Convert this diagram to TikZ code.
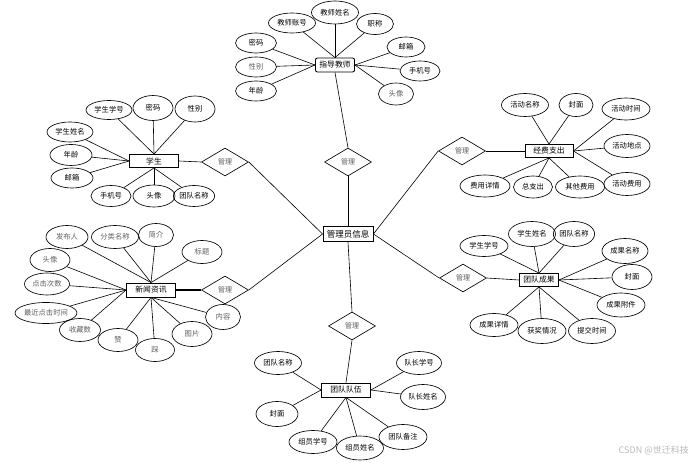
\documentclass[tikz,border=0pt]{standalone}
\usepackage{fontspec}
\newfontfamily\cjk{Noto Sans CJK SC}
\usetikzlibrary{shapes.geometric}
\begin{document}
\begin{tikzpicture}[x=1pt,y=-1pt,
  attr/.style={ellipse, draw, line width=0.65pt, inner sep=0pt, minimum width=44pt, minimum height=22pt, font=\cjk\fontsize{7.3}{8}\selectfont},
  ew/.style={minimum width=#1},
  eh/.style={minimum height=#1},
  soft/.style={text=gray!75!black},
  ent/.style={rectangle, draw, line width=0.9pt, inner sep=0pt, minimum width=49pt, minimum height=14pt, font=\cjk\fontsize{7.8}{8}\selectfont},
  rel/.style={diamond, draw, line width=0.65pt, inner sep=0pt, minimum width=47pt, minimum height=28pt, font=\cjk\fontsize{7}{8}\selectfont, text=gray!70!black},
  conn/.style={line width=0.6pt}]
\useasboundingbox (0,0) rectangle (697,465);

% central entity and relations
\node[ent, minimum width=50pt, minimum height=15pt, font=\cjk\fontsize{8.5}{9}\selectfont] (m) at (348,234) {管理员信息};
\node[rel] (d1) at (348,162) {管理};
\node[rel] (d2) at (225,162) {管理};
\node[rel] (d3) at (462,151) {管理};
\node[rel] (d4) at (463,278) {管理};
\node[rel] (d5) at (225,290) {管理};
\node[rel] (d6) at (352,326) {管理};

% teacher
\node[ent, rounded corners=2pt, minimum width=39pt] (t) at (335,65) {指导教师};
\node[attr, ew=47pt, eh=23pt] (t1) at (335,12.5) {教师姓名};
\node[attr, ew=47pt, eh=20pt] (t2) at (292,23) {教师账号};
\node[attr, ew=37pt, eh=21pt] (t3) at (375,24) {职称};
\node[attr, ew=41pt, eh=20pt] (t4) at (256,43) {密码};
\node[attr, ew=41pt, eh=20pt, soft] (t5) at (256,67) {性别};
\node[attr, ew=41pt, eh=20pt] (t6) at (256,91) {年龄};
\node[attr, ew=38pt, eh=20pt] (t7) at (406,47) {邮箱};
\node[attr, ew=40pt, eh=20pt] (t8) at (420,71) {手机号};
\node[attr, ew=35pt, eh=22pt, soft] (t9) at (396,94) {头像};
\foreach \i in {1,2,3} \draw[conn] (t\i) -- (t.north);
\foreach \i in {4,5,6} \draw[conn] (t\i) -- (t.west);
\foreach \i in {7,8,9} \draw[conn] (t\i) -- (t.east);

% student
\node[ent, minimum height=13pt] (s) at (154,161) {学生};
\node[attr, ew=46pt, eh=19pt] (s1) at (109,110) {学生学号};
\node[attr, ew=40pt, eh=25pt] (s2) at (153,108) {密码};
\node[attr, ew=40pt, eh=26pt] (s3) at (195,109) {性别};
\node[attr, ew=46pt, eh=20pt] (s4) at (70,132) {学生姓名};
\node[attr, ew=42pt, eh=21pt] (s5) at (71,155) {年龄};
\node[attr, ew=42pt, eh=20pt] (s6) at (72,178) {邮箱};
\node[attr, ew=40pt, eh=21pt] (s7) at (111,196) {手机号};
\node[attr, ew=42pt, eh=22pt] (s8) at (154,196) {头像};
\node[attr, ew=38pt, eh=21pt] (s9) at (194,196) {团队名称};
\foreach \i in {1,2,3} \draw[conn] (s\i) -- (s.north);
\foreach \i in {4,5,6} \draw[conn] (s\i) -- (s.west);
\foreach \i in {7,8,9} \draw[conn] (s\i) -- (s.south);

% finance
\node[ent, minimum width=48pt, minimum height=13pt] (f) at (549,151) {经费支出};
\node[attr, ew=47pt, eh=23pt] (f1) at (525,105) {活动名称};
\node[attr, ew=34pt, eh=23pt] (f2) at (576,105) {封面};
\node[attr, ew=48pt, eh=22pt] (f3) at (626,109) {活动时间};
\node[attr, ew=46pt, eh=23pt] (f4) at (627,146) {活动地点};
\node[attr, ew=46pt, eh=23pt] (f5) at (627,184) {活动费用};
\node[attr, ew=49pt, eh=22pt] (f6) at (580,187) {其他费用};
\node[attr, ew=39pt, eh=22pt] (f7) at (533,187) {总支出};
\node[attr, ew=50pt, eh=22pt] (f8) at (485,186) {费用详情};
\foreach \i in {1,2} \draw[conn] (f\i) -- (f.north);
\foreach \i in {3,4,5} \draw[conn] (f\i) -- (f.east);
\foreach \i in {6,7,8} \draw[conn] (f\i) -- (f.south);

% news
\node[ent] (n) at (151,290) {新闻资讯};
\node[attr, ew=42pt, eh=23pt, soft] (n1) at (67,237) {发布人};
\node[attr, ew=47pt, eh=23pt, soft] (n2) at (115,237) {分类名称};
\node[attr, ew=35pt, eh=23pt, soft] (n3) at (156,235) {简介};
\node[attr, ew=40pt, eh=23pt, soft] (n4) at (202,252) {标题};
\node[attr, ew=40pt, eh=23pt, soft] (n5) at (50,260) {头像};
\node[attr, ew=45pt, eh=22pt, soft] (n6) at (47,284) {点击次数};
\node[attr, ew=60pt, eh=21pt, soft] (n7) at (46,313) {最近点击时间};
\node[attr, ew=41pt, eh=23pt, soft] (n8) at (80,330) {收藏数};
\node[attr, ew=40pt, eh=23pt, soft] (n9) at (118,340) {赞};
\node[attr, ew=39pt, eh=23pt, soft] (n10) at (155,350) {踩};
\node[attr, ew=40pt, eh=25pt, soft] (n11) at (192,334) {图片};
\node[attr, ew=35pt, eh=25pt, soft] (n12) at (223,317) {内容};
\foreach \i in {1,2,3,4} \draw[conn] (n\i) -- (n.north);
\foreach \i in {5,6,7,8} \draw[conn] (n\i) -- (n.west);
\foreach \i in {9,10,11,12} \draw[conn] (n\i) -- (n.south);

% achievements
\node[ent, minimum width=39pt, minimum height=13pt] (a) at (539,280) {团队成果};
\node[attr, ew=48pt, eh=21pt] (a1) at (484,246) {学生学号};
\node[attr, ew=47pt, eh=25pt] (a2) at (532,234) {学生姓名};
\node[attr, ew=38pt, eh=25pt] (a3) at (574,234) {团队名称};
\node[attr, ew=46pt, eh=25pt] (a4) at (625,251) {成果名称};
\node[attr, ew=40pt, eh=25pt] (a5) at (632,277) {封面};
\node[attr, ew=48pt, eh=24pt] (a6) at (621,305) {成果附件};
\node[attr, ew=47pt, eh=25pt] (a7) at (592,331) {提交时间};
\node[attr, ew=48pt, eh=25pt] (a8) at (542,331) {获奖情况};
\node[attr, ew=48pt, eh=23pt] (a9) at (494,325) {成果详情};
\foreach \i in {1,2,3} \draw[conn] (a\i) -- (a.north);
\foreach \i in {4,5,6} \draw[conn] (a\i) -- (a.east);
\foreach \i in {7,8,9} \draw[conn] (a\i) -- (a.south);

% team
\node[ent] (q) at (346,390) {团队队伍};
\node[attr, ew=47pt, eh=23pt] (q1) at (278,363) {团队名称};
\node[attr, ew=45pt, eh=23pt] (q2) at (419,363) {队长学号};
\node[attr, ew=45pt, eh=25pt] (q3) at (423,397) {队长姓名};
\node[attr, ew=42pt, eh=25pt] (q4) at (277,414) {封面};
\node[attr, ew=48pt, eh=23pt] (q5) at (313,442) {组员学号};
\node[attr, ew=47pt, eh=24pt] (q6) at (360,448) {组员姓名};
\node[attr, ew=48pt, eh=25pt] (q7) at (403,437) {团队备注};
\foreach \i in {1,4} \draw[conn] (q\i) -- (q.west);
\foreach \i in {2,3} \draw[conn] (q\i) -- (q.east);
\foreach \i in {5,6,7} \draw[conn] (q\i) -- (q.south);

% relation links
\draw[conn] (d1.north) -- (t.south);
\draw[conn] (d1.south) -- (m.north);
\draw[conn] (d2.west) -- (s.east);
\draw[conn] (d2.east) -- (m.west);
\draw[conn] (d3.east) -- (f.west);
\draw[conn] (d3.west) -- (m.east);
\draw[conn] (d4.east) -- (a.west);
\draw[conn] (d4.west) -- (m.east);
\draw[conn, line width=1.1pt] (d5.west) -- (n.east);
\draw[conn] (d5.east) -- (m.west);
\draw[conn] (d6.north) -- (m.south);
\draw[conn] (d6.south) -- (q.north);

% watermark
\node[anchor=east, inner sep=0pt, font=\cjk\fontsize{9}{10}\selectfont, text=gray!55] (wm) at (689,450) {CSDN @世迁科技};
\end{tikzpicture}
\end{document}
